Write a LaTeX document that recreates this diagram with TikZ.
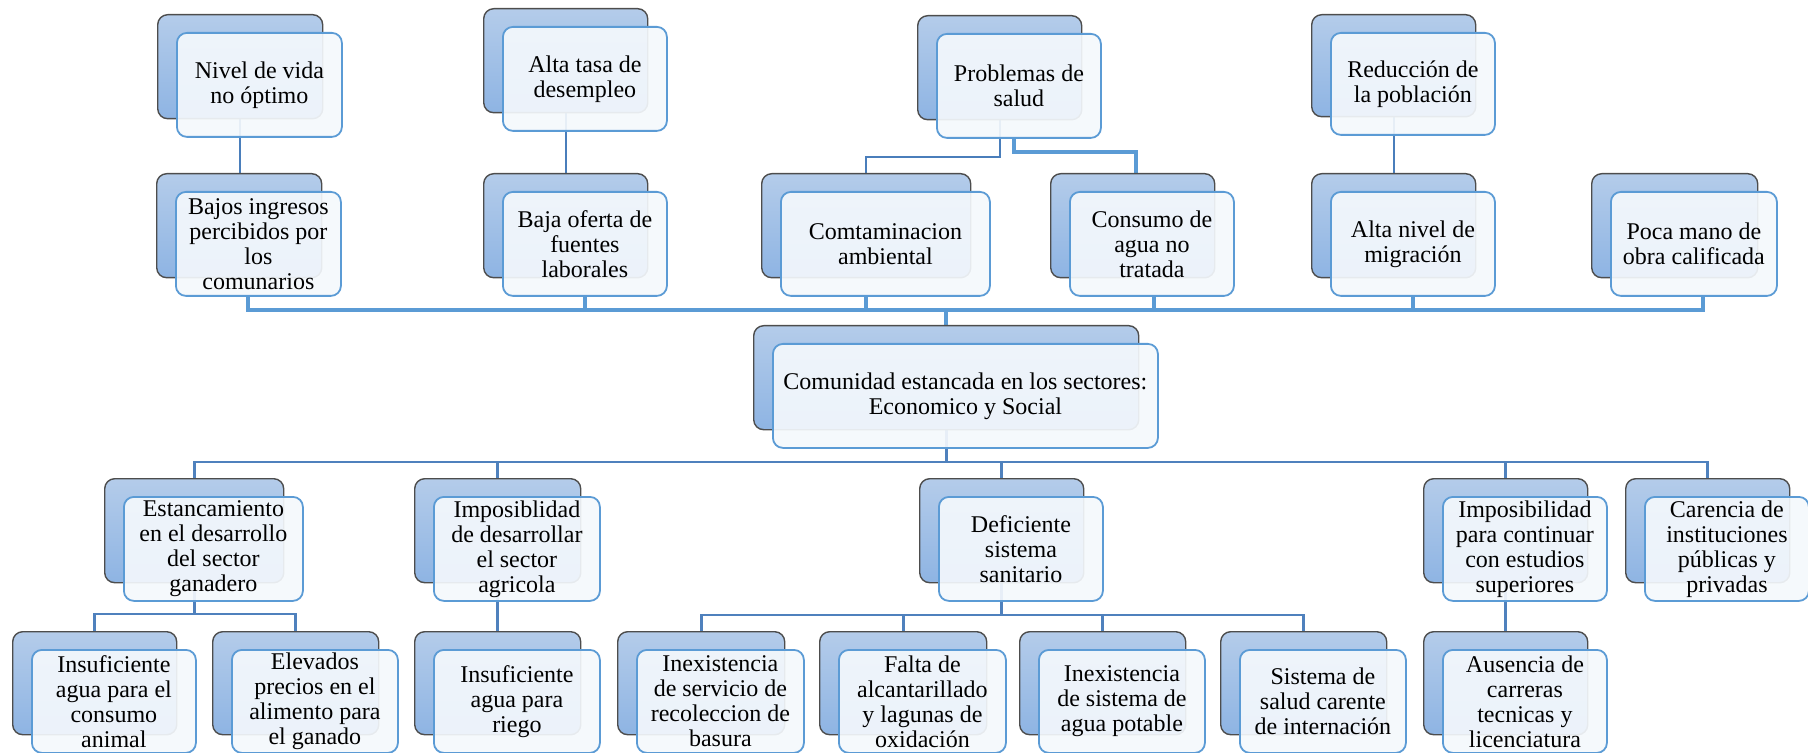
\documentclass[tikz,border=0pt]{standalone}
\usepackage{fontspec}
\setmainfont{Liberation Serif}
\usetikzlibrary{calc}
\pgfdeclarelayer{background}
\pgfsetlayers{background,main}
\definecolor{backtop}{HTML}{B4CCEA}
\definecolor{backbot}{HTML}{8EB4E3}
\definecolor{backline}{HTML}{4D4D4D}
\definecolor{frontline}{HTML}{5B9BD5}
\definecolor{frontfill}{HTML}{F4F8FC}
\definecolor{lnA}{HTML}{4A7EBB}
\definecolor{lnB}{HTML}{5B9BD5}
\definecolor{lnC}{HTML}{4F81BD}
\tikzset{
  backbox/.style={anchor=north west, rectangle, rounded corners=5pt, draw=backline, line width=0.7pt,
    top color=backtop, bottom color=backbot, inner sep=0pt},
  frontbox/.style={anchor=north west, rectangle, rounded corners=5pt, draw=frontline, line width=0.9pt,
    fill=frontfill, fill opacity=0.92, text opacity=1, inner sep=0.5pt, align=center,
    font=\fontsize{12}{12.5}\selectfont},
  thinline/.style={draw=lnA, line width=1.1pt},
  busline/.style={draw=lnB, line width=2pt},
  midline/.style={draw=lnC, line width=1.3pt},
}
\newcommand\pairbox[6]{%
  \node[backbox, minimum width=#4*0.5pt, minimum height=#5*0.5pt] (#1) at (#2,#3) {};
  \node[frontbox, minimum width=#4*0.5pt, minimum height=#5*0.5pt] (#1F) at ($(#1.north west)+(19,18)$) {#6};
}
\begin{document}
\begin{tikzpicture}[x=0.5pt, y=-0.5pt]
\useasboundingbox (0,0) rectangle (1808,753);
% top row
\pairbox{nivel}{157}{14}{165}{104}{Nivel de vida\\no óptimo}
\pairbox{alta}{483}{8}{164}{104}{Alta tasa de\\desempleo}
\pairbox{prob}{917}{15}{164}{104}{Problemas de\\salud}
\pairbox{redu}{1311}{14}{164}{102}{Reducción de\\la población}
% second row
\pairbox{bajos}{156}{173}{165}{104}{Bajos ingresos\\percibidos por\\los\\comunarios}
\pairbox{baja}{483}{173}{164}{104}{Baja oferta de\\fuentes\\laborales}
\pairbox{comt}{761}{173}{209}{104}{Comtaminacion\\ambiental}
\pairbox{cons}{1050}{173}{164}{104}{Consumo de\\agua no\\tratada}
\pairbox{migr}{1311}{173}{164}{104}{Alta nivel de\\migración}
\pairbox{poca}{1591}{173}{166}{104}{Poca mano de\\obra calificada}
% center
\pairbox{center}{753}{325}{385}{104}{Comunidad estancada en los sectores:\\Economico y Social}
% lower row
\pairbox{estan}{104}{478}{179}{104}{Estancamiento\\en el desarrollo\\del sector\\ganadero}
\pairbox{imposA}{414}{478}{166}{104}{Imposiblidad\\de desarrollar\\el sector\\agricola}
\pairbox{defic}{919}{478}{164}{104}{Deficiente\\sistema\\sanitario}
\pairbox{imposE}{1423}{478}{164}{104}{Imposibilidad\\para continuar\\con estudios\\superiores}
\pairbox{caren}{1625}{478}{164}{104}{Carencia de\\instituciones\\públicas y\\privadas}
% bottom row
\pairbox{insA}{12}{631}{164}{103}{Insuficiente\\agua para el\\consumo\\animal}
\pairbox{elev}{212}{631}{166}{103}{Elevados\\precios en el\\alimento para\\el ganado}
\pairbox{insR}{414}{631}{166}{103}{Insuficiente\\agua para\\riego}
\pairbox{inexA}{617}{631}{167}{103}{Inexistencia\\de servicio de\\recoleccion de\\basura}
\pairbox{falta}{819}{631}{167}{103}{Falta de\\alcantarillado\\y lagunas de\\oxidación}
\pairbox{inexB}{1019}{631}{166}{103}{Inexistencia\\de sistema de\\agua potable}
\pairbox{sist}{1220}{631}{166}{103}{Sistema de\\salud carente\\de internación}
\pairbox{ausen}{1423}{631}{164}{103}{Ausencia de\\carreras\\tecnicas y\\licenciatura}
% levels
\coordinate (yA) at (0,157);
\coordinate (yB) at (0,152);
\coordinate (yBus) at (0,310);
\coordinate (yL) at (0,462);
\coordinate (yS) at (0,614);
\coordinate (yT) at (0,615);
\begin{pgfonlayer}{background}
% top to second row
\draw[thinline] (nivel.south) -- (nivel.south |- bajos.north);
\draw[thinline] (alta.south) -- (alta.south |- baja.north);
\draw[thinline] (redu.south) -- (redu.south |- migr.north);
\draw[thinline] (prob.south) |- (yA -| comt.north) -- (comt.north);
\coordinate (pR) at ($(probF.south)+(-5,0)$);
\draw[busline] (pR) |- ($(yB -| cons.north)+(3,0)$) -- ($(cons.north)+(3,0)$);
% bus to center
\coordinate (bL) at ($(bajosF.south)+(-10,0)$);
\coordinate (bR) at ($(pocaF.south)+(9,0)$);
\draw[busline] (bL) |- (yBus -| bR) -- (bR);
\draw[busline] (bajaF.south) -- (bajaF.south |- yBus);
\draw[busline] (comtF.south -| comt.south) -- (comt.south |- yBus);
\draw[busline] ($(consF.south)+(2,0)$) -- ($(consF.south |- yBus)+(2,0)$);
\draw[busline] (migrF.south) -- (migrF.south |- yBus);
\draw[busline] (center.north) -- (center.north |- yBus);
% center to lower row
\draw[midline] (center.south) -- (center.south |- yL);
\draw[midline] (estan.north) |- (yL -| caren.north) -- (caren.north);
\draw[midline] (imposA.north) -- (imposA.north |- yL);
\draw[midline] (defic.north) -- (defic.north |- yL);
\draw[midline] (imposE.north) -- (imposE.north |- yL);
% lower to bottom
\draw[midline] (estan.south) -- (estan.south |- yS);
\draw[midline] (insA.north) |- (yS -| elev.north) -- (elev.north);
\draw[midline] (imposA.south) -- (imposA.south |- insR.north);
\draw[midline] (defic.south) -- (defic.south |- yT);
\draw[midline] (inexA.north) |- (yT -| sist.north) -- (sist.north);
\draw[midline] (falta.north) -- (falta.north |- yT);
\draw[midline] (inexB.north) -- (inexB.north |- yT);
\draw[midline] (imposE.south) -- (imposE.south |- ausen.north);
\end{pgfonlayer}
\end{tikzpicture}
\end{document}
